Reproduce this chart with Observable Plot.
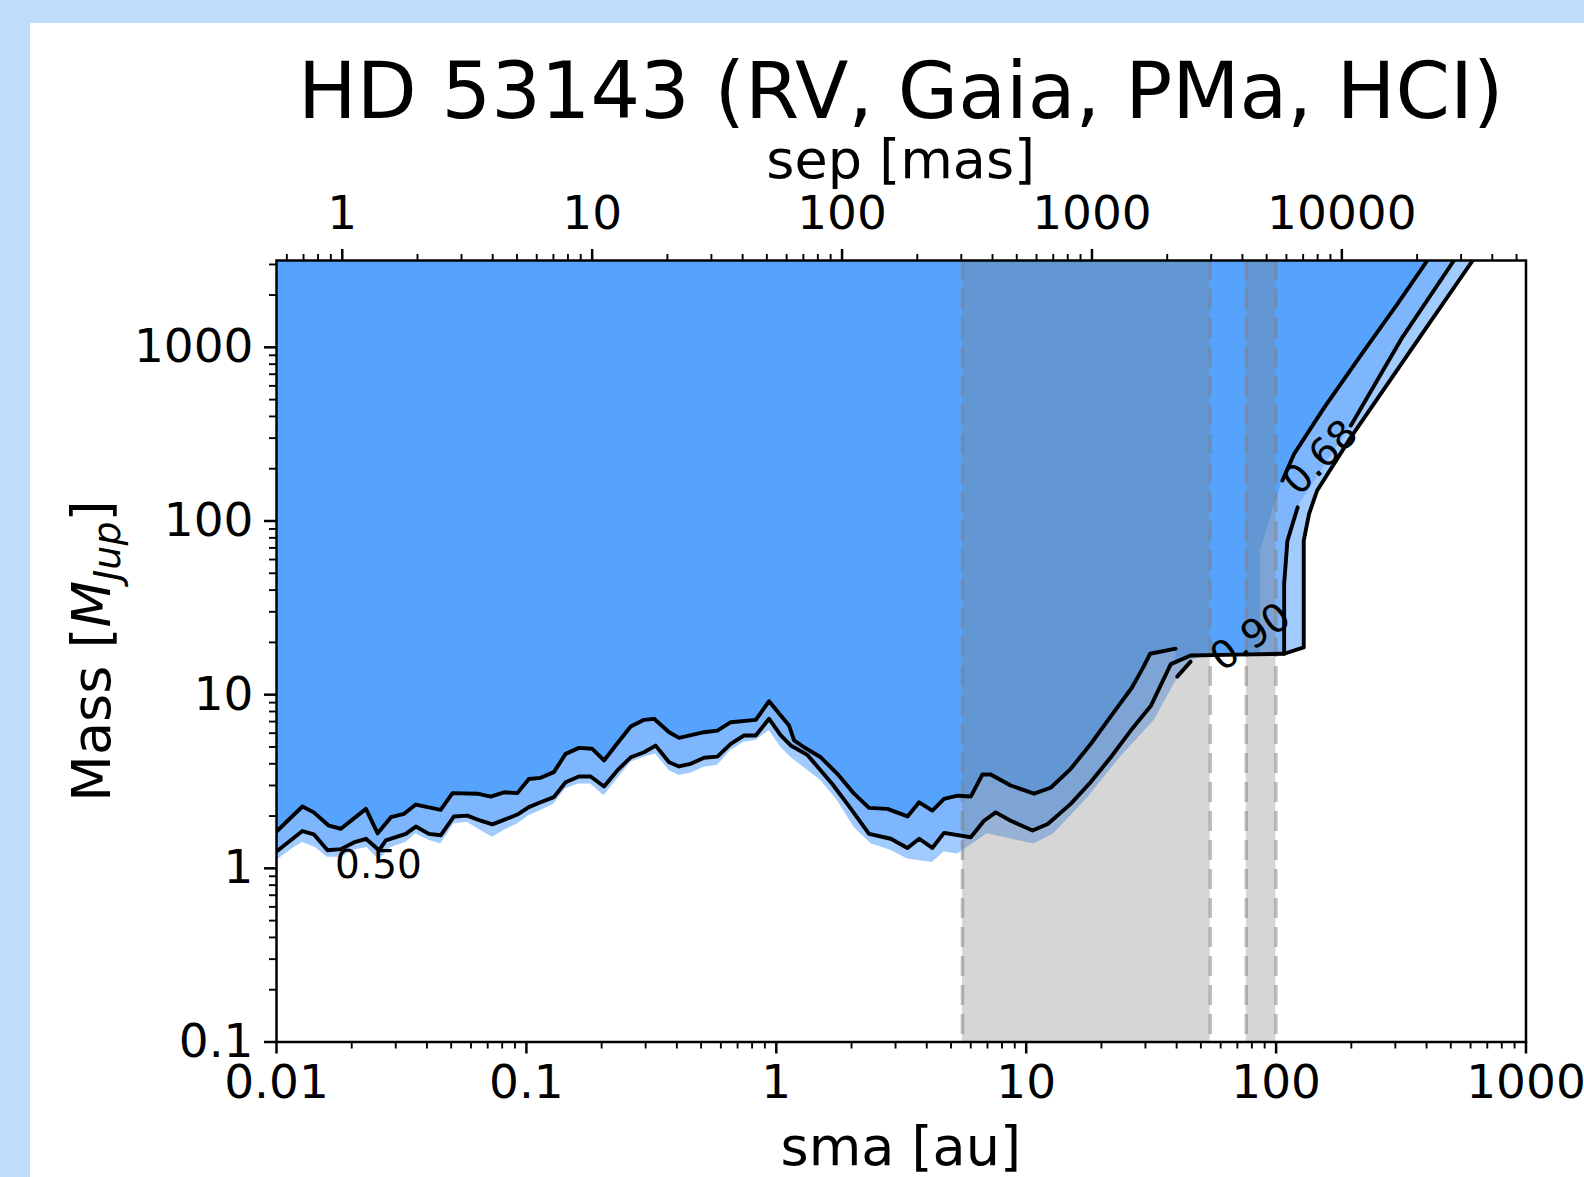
<!DOCTYPE html>
<html><head><meta charset="utf-8">
<script src="https://cdn.jsdelivr.net/npm/d3@7"></script>
<script src="https://cdn.jsdelivr.net/npm/@observablehq/plot@0.6"></script>
<style>
html,body{margin:0;padding:0;width:1584px;height:1177px;overflow:hidden;background:#c0dcfd;}
#panel{position:absolute;left:30px;top:23px;width:1554px;height:1154px;background:#ffffff;overflow:hidden;}
#panel svg{display:block;}
</style></head>
<body><div id="panel"></div>
<script>
// ---------------- data ----------------
const distancePc = 18.33;               // star distance used for the sep [mas] axis
const titleText = "HD 53143 (RV, Gaia, PMa, HCI)";

// upper black contour (left part)
const upperSma  = [0.0100,0.0127,0.0141,0.0162,0.0181,0.0228,0.0254,0.0287,0.0324,0.0361,0.0454,0.0506,0.0637,0.0720,0.0813,0.0920,0.1023,0.1140,0.1288,0.1435,0.1622,0.1835,0.2045,0.2312,0.2614,0.2956,0.3243,0.3723,0.4083,0.5140,0.5812,0.6572,0.8276,0.9358,1.042,1.125,1.178,1.291,1.506,1.755,2.047,2.350,2.785,3.35,3.73,4.21,4.69,5.31,6.00,6.68,7.21,8.67,10.75,12.53,15.07,18.12,21.8,26.5,29.5,31.3,39.6];
const upperMass = [1.63,2.27,2.10,1.76,1.69,2.20,1.59,1.97,2.06,2.33,2.17,2.71,2.69,2.59,2.74,2.71,3.27,3.32,3.58,4.56,4.94,4.88,4.18,5.25,6.55,7.16,7.26,6.08,5.64,6.08,6.21,6.94,7.16,9.17,7.58,6.64,5.45,4.98,4.36,3.50,2.69,2.23,2.20,1.99,2.40,2.15,2.51,2.62,2.59,3.47,3.47,3.00,2.69,2.91,3.74,5.2,7.5,11.0,14.5,17.2,18.4];

// lower black contour (0.50), running to the top-right
const lowerSma  = [0.0100,0.0127,0.0141,0.0160,0.0181,0.0204,0.0228,0.0257,0.0274,0.0329,0.0361,0.0407,0.0454,0.0513,0.0580,0.0656,0.0731,0.0813,0.0920,0.1023,0.1140,0.1288,0.1435,0.1622,0.1807,0.2045,0.2312,0.2614,0.2956,0.3290,0.3723,0.4083,0.4543,0.5140,0.5812,0.6572,0.7430,0.8276,0.9358,1.042,1.142,1.331,1.506,1.675,1.923,2.350,2.87,3.35,3.73,4.21,4.69,6.00,6.78,7.55,8.67,10.6,12.2,15.07,18.1,21.8,26.2,31.5,37.9,45.5,70,107.7,129,129,135.5,146,199,345,612];
const lowerMass = [1.25,1.64,1.57,1.27,1.29,1.41,1.48,1.27,1.45,1.58,1.74,1.58,1.55,1.99,2.01,1.88,1.79,1.90,2.04,2.25,2.40,2.57,3.13,3.38,3.38,2.96,3.66,4.36,4.66,5.09,4.08,3.86,4.00,4.33,4.40,5.21,5.82,5.82,7.26,5.82,5.1,4.5,3.66,3.06,2.35,1.58,1.48,1.31,1.48,1.31,1.60,1.51,1.88,2.10,1.88,1.65,1.80,2.35,3.13,4.36,6.21,8.6,15.0,16.8,17.0,17.2,18.7,77,110,150,303,957,3162];

// upper black contour (right part, ends above the 0.68 label)
const upperRightSma  = [106,118,156,225,306,403];
const upperRightMass = [171,243,451,957,1778,3162];

// middle contour (0.68), upper piece and lower (vertical) piece
const midUpperSma  = [199,320,515];
const midUpperMass = [354,1142,3162];
const midLowerSma  = [107.7,107.7,111,122];
const midLowerMass = [17.2,43.5,77,120];

// short contour piece next to the 0.90 label
const dashSma  = [40.2,45.5];
const dashMass = [12.7,15.5];

// lower edge of the palest band (left part; right part follows the lower contour)
const paleSma  = [0.0100,0.0115,0.0127,0.0143,0.0160,0.0181,0.0204,0.0230,0.0257,0.0287,0.0329,0.0361,0.0407,0.0454,0.0513,0.0580,0.0656,0.0731,0.0813,0.0920,0.1023,0.1140,0.1288,0.1435,0.1622,0.1807,0.2045,0.2312,0.2614,0.2956,0.3290,0.3723,0.4083,0.4543,0.5140,0.5812,0.6572,0.7430,0.8276,0.9358,1.042,1.142,1.506,1.755,2.05,2.40,2.87,3.35,4.21,4.69,5.31,7.0,10.75,12.9,17.7,23.8,32.5,41.1,45.5,52];
const paleMass = [1.11,1.29,1.41,1.32,1.16,1.16,1.27,1.32,1.12,1.32,1.41,1.58,1.45,1.38,1.80,1.84,1.65,1.51,1.65,1.80,2.01,2.15,2.35,2.87,3.06,3.06,2.62,3.27,4.08,4.36,4.56,3.66,3.42,3.53,3.82,3.91,4.77,5.32,5.44,6.21,4.98,4.36,3.20,2.46,1.72,1.38,1.27,1.13,1.08,1.24,1.21,1.58,1.38,1.58,2.57,4.36,7.1,13.1,15.7,16.9];

// boundary of the dark region between the upper contour pieces
const darkJoinSma  = [39.7,45.5,70,86.7,86.7,95.1];
const darkJoinMass = [15.6,16.8,17.0,17.1,67.6,105];

// shaded (excluded) sma ranges, au
const bandStart = [5.56, 76.0];
const bandEnd   = [54.5, 99.8];

// contour labels
const labelText = ["0.50","0.90","0.68"];
const labelSma  = [0.0256, 79.1, 150.7];
const labelMass = [1.04, 21.4, 232];
const labelRot  = [0, -35, -45];

// ticks
const xMajor = [0.01,0.1,1,10,100,1000];
const xMajorLabels = ["0.01","0.1","1","10","100","1000"];
const yMajor = [0.1,1,10,100,1000];
const yMajorLabels = ["0.1","1","10","100","1000"];
const sepMajor = [1,10,100,1000,10000];
const sepMajorLabels = ["1","10","100","1000","10000"];

// ---------------- helpers ----------------
const zip = (a, m) => a.map((v, i) => ({a: v, m: m[i]}));
const sepToSma = s => s * distancePc / 1000;
const yTop = Math.pow(10, 3.5);
const minorOf = (lo, hi) => { const out = []; for (let e = lo; e < hi; e++) for (let k = 2; k <= 9; k++) out.push(k * Math.pow(10, e)); return out; };
const xMinor = minorOf(-2, 3);
const yMinor = minorOf(-1, 3).concat([2000, 3000]);
const sepMinor = [0.6,0.7,0.8,0.9].concat(minorOf(0, 4), [20000,30000,40000,50000]);
const sepTickSma = sepMajor.map(sepToSma);

const lower = zip(lowerSma, lowerMass);
const paleEdge = zip(paleSma, paleMass).concat(lower.filter(d => d.a > 52));
const medEdge = lower.filter(d => d.a <= 107.7).concat(zip(midLowerSma, midLowerMass).slice(1), zip(midUpperSma, midUpperMass));
const darkEdge = zip(upperSma, upperMass).concat(zip(darkJoinSma, darkJoinMass), zip(upperRightSma, upperRightMass));

const lines = [
  ...zip(upperSma, upperMass).map(d => ({...d, s: "upper"})),
  ...lower.map(d => ({...d, s: "lower"})),
  ...zip(upperRightSma, upperRightMass).map(d => ({...d, s: "upperRight"})),
  ...zip(midUpperSma, midUpperMass).map(d => ({...d, s: "midUpper"})),
  ...zip(midLowerSma, midLowerMass).map(d => ({...d, s: "midLower"})),
  ...zip(dashSma, dashMass).map(d => ({...d, s: "dash"}))
];
const bands = bandStart.map((s, i) => ({x1: s, x2: bandEnd[i]}));
const bandEdges = bandStart.concat(bandEnd);
const labels = labelText.map((t, i) => ({t, a: labelSma[i], m: labelMass[i], r: labelRot[i]}));

const W = 1554, H = 1154;
const chart = Plot.plot({
  width: W, height: H,
  marginLeft: 246, marginRight: 58.5, marginTop: 237, marginBottom: 135.5,
  style: {fontFamily: "'DejaVu Sans', sans-serif", fontSize: "47px", background: "transparent", color: "black", overflow: "visible"},
  x: {type: "log", domain: [0.01, 1000], label: null},
  y: {type: "log", domain: [0.1, yTop], label: null},
  marks: [
    Plot.areaY(paleEdge, {x: "a", y1: "m", y2: yTop, fill: "#a2cbfd", clip: true}),
    Plot.areaY(medEdge, {x: "a", y1: "m", y2: yTop, fill: "#7db6fc", clip: true}),
    Plot.areaY(darkEdge, {x: "a", y1: "m", y2: yTop, fill: "#55a3fd", clip: true}),
    Plot.rect(bands, {x1: "x1", x2: "x2", y1: 0.1, y2: yTop, fill: "#808080", fillOpacity: 0.32}),
    Plot.ruleX(bandEdges, {stroke: "#808080", strokeOpacity: 0.5, strokeWidth: 3.5, strokeDasharray: "20,9"}),
    Plot.line(lines, {x: "a", y: "m", z: "s", stroke: "black", strokeWidth: 3.9, clip: true}),
    Plot.text(labels, {x: "a", y: "m", text: "t", rotate: "r", fontSize: 39, fill: "black"}),
    Plot.frame({stroke: "black", strokeWidth: 2.5}),
    Plot.axisX({ticks: xMajor, tickFormat: d => xMajorLabels[xMajor.indexOf(d)], anchor: "bottom", tickSize: 12, tickPadding: 10.5, strokeWidth: 2.5, fontSize: 47, label: null}),
    Plot.axisX({ticks: xMinor, tickFormat: () => "", anchor: "bottom", tickSize: 7, strokeWidth: 1.9, label: null}),
    Plot.axisX({ticks: sepTickSma, tickFormat: (d) => sepMajorLabels[sepTickSma.indexOf(d)], anchor: "top", tickSize: 12, tickPadding: 20, strokeWidth: 2.5, fontSize: 47, label: null}),
    Plot.axisX({ticks: sepMinor.map(sepToSma), tickFormat: () => "", anchor: "top", tickSize: 7, strokeWidth: 1.9, label: null}),
    Plot.axisY({ticks: yMajor, tickFormat: d => yMajorLabels[yMajor.indexOf(d)], anchor: "left", tickSize: 12, tickPadding: 11, strokeWidth: 2.5, fontSize: 47, label: null}),
    Plot.axisY({ticks: yMinor, tickFormat: () => "", anchor: "left", tickSize: 7, strokeWidth: 1.9, label: null})
  ]
});
document.getElementById("panel").appendChild(chart);

// titles and axis labels
const svg = d3.select(chart);
svg.append("text").attr("x", 870.75).attr("y", 95).attr("text-anchor", "middle").attr("font-size", 78).attr("fill", "black").text(titleText);
svg.append("text").attr("x", 870.75).attr("y", 154.5).attr("text-anchor", "middle").attr("font-size", 54).attr("fill", "black").text("sep [mas]");
svg.append("text").attr("x", 870.75).attr("y", 1142).attr("text-anchor", "middle").attr("font-size", 54).attr("fill", "black").text("sma [au]");
const yl = svg.append("text").attr("transform", "translate(80,628) rotate(-90)").attr("text-anchor", "middle").attr("font-size", 54).attr("fill", "black");
yl.append("tspan").text("Mass [");
yl.append("tspan").attr("font-style", "italic").text("M");
yl.append("tspan").attr("font-style", "italic").attr("font-size", 38).attr("dy", 10).text("Jup");
yl.append("tspan").attr("dy", -10).text("]");
</script>
</body></html>
